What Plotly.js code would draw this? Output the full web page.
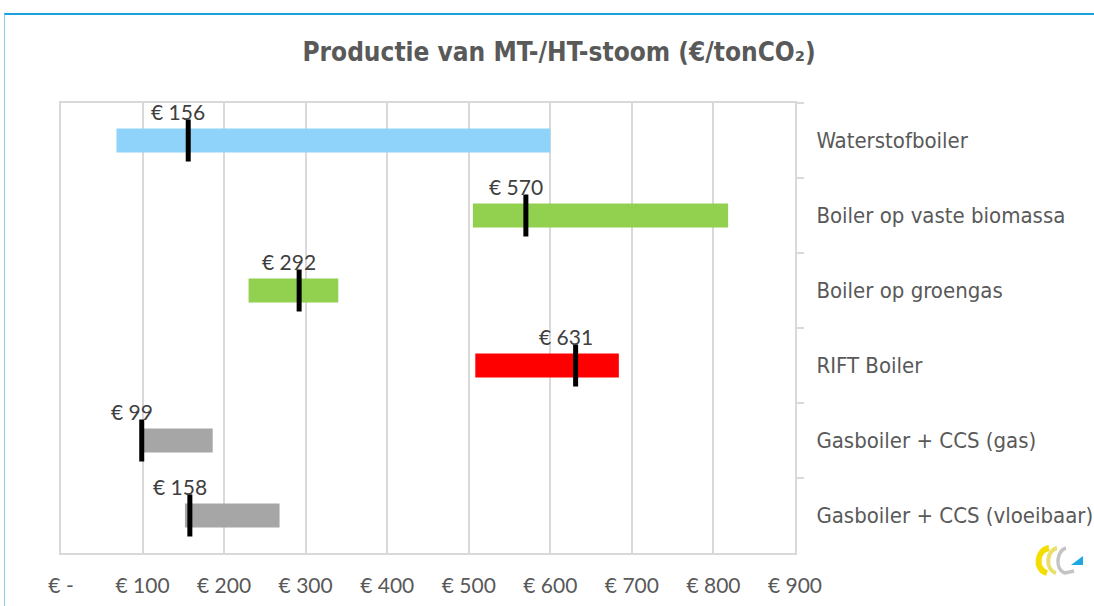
<!DOCTYPE html>
<html>
<head>
<meta charset="utf-8">
<script src="https://cdn.plot.ly/plotly-3.0.1.min.js"></script>
<style>
html,body{margin:0;padding:0;background:#fff;}
#wrap{position:relative;width:1094px;height:606px;overflow:hidden;}
#chart{position:absolute;left:0;top:0;width:1094px;height:606px;}
#frame{position:absolute;left:4px;top:13px;width:1100px;height:700px;border-top:2px solid #1ba1e2;border-left:1px solid #86cdf0;pointer-events:none;}
#logo{position:absolute;left:1030px;top:540px;pointer-events:none;}
</style>
</head>
<body>
<div id="wrap">
<div id="chart"></div>
<div id="frame"></div>
<svg id="logo" width="60" height="45" viewBox="0 0 60 45">
  <path d="M19 8 C7 10 4 29 17 33" fill="none" stroke="#f3de00" stroke-width="6"/>
  <path d="M27 8 C17 10 14 29 26 33" fill="none" stroke="#e9df6a" stroke-width="4"/>
  <path d="M36 8 C27 10 24 29 35 33 L44 31" fill="none" stroke="#c4c4c4" stroke-width="3.5"/>
  <polygon points="41,25 53,16 53,25" fill="#1ea7e6"/>
</svg>
</div>
<script>
var categories = ["Waterstofboiler", "Boiler op vaste biomassa", "Boiler op groengas", "RIFT Boiler", "Gasboiler + CCS (gas)", "Gasboiler + CCS (vloeibaar)"];
var lowValues  = [68, 505, 230, 508, 99, 152];
var highValues = [600, 818, 340, 684, 186, 268];
var midValues  = [156, 570, 292, 631, 99, 158];
var barColors  = ["#8fd3fa", "#92d050", "#92d050", "#ff0000", "#a6a6a6", "#a6a6a6"];
var xTickVals  = [0, 100, 200, 300, 400, 500, 600, 700, 800, 900];
var xTickText  = ["€ -", "€ 100", "€ 200", "€ 300", "€ 400", "€ 500", "€ 600", "€ 700", "€ 800", "€ 900"];

var spans = highValues.map(function(h, i){ return h - lowValues[i]; });

var barTrace = {
  type: "bar", orientation: "h",
  y: categories, x: spans, base: lowValues,
  width: 0.32,
  marker: {color: barColors},
  hoverinfo: "skip", showlegend: false
};
var markTrace = {
  type: "scatter", mode: "markers",
  y: categories, x: midValues,
  marker: {symbol: "line-ns", size: 30, line: {width: 5, color: "#000"}, color: "#000"},
  hoverinfo: "skip", showlegend: false, cliponaxis: false
};

var annotations = midValues.map(function(v, i){
  return {
    x: v, y: categories[i], xref: "x", yref: "y",
    text: "€ " + v, showarrow: false,
    xshift: -10, yshift: 29,
    font: {family: "Lato, 'Open Sans', sans-serif", size: 21, color: "#404040"}
  };
});

var layout = {
  width: 1094, height: 606,
  margin: {l: 61, r: 299, t: 103, b: 53},
  paper_bgcolor: "rgba(0,0,0,0)", plot_bgcolor: "#fff",
  title: {
    text: "Productie van MT-/HT-stoom (€/tonCO₂)",
    x: 0.511, xanchor: "center", y: 0.914, yanchor: "middle",
    font: {family: "'DejaVu Sans Condensed', 'DejaVu Sans', sans-serif", size: 26, color: "#595959", weight: "bold"}
  },
  xaxis: {
    range: [0, 900], tickvals: xTickVals, ticktext: xTickText,
    showgrid: true, gridcolor: "#d9d9d9", gridwidth: 2,
    zeroline: false, showline: true, mirror: true, linecolor: "#d9d9d9", linewidth: 2,
    ticks: "", ticklabelstandoff: 13,
    tickfont: {family: "Lato, 'Open Sans', sans-serif", size: 21, color: "#595959"},
    fixedrange: true
  },
  yaxis: {
    type: "category", autorange: false, range: [5.5, -0.5], side: "right",
    categoryorder: "array", categoryarray: categories,
    showgrid: false, zeroline: false,
    showline: true, mirror: true, linecolor: "#d9d9d9", linewidth: 2,
    ticks: "outside", tickson: "boundaries", ticklen: 7, tickwidth: 2, tickcolor: "#d9d9d9",
    ticklabelstandoff: 15,
    tickfont: {family: "'DejaVu Sans Condensed', 'DejaVu Sans', sans-serif", size: 22, color: "#595959"},
    fixedrange: true
  },
  annotations: annotations,
  bargap: 0.68
};

Plotly.newPlot("chart", [barTrace, markTrace], layout, {displayModeBar: false, staticPlot: true});
</script>
</body>
</html>
